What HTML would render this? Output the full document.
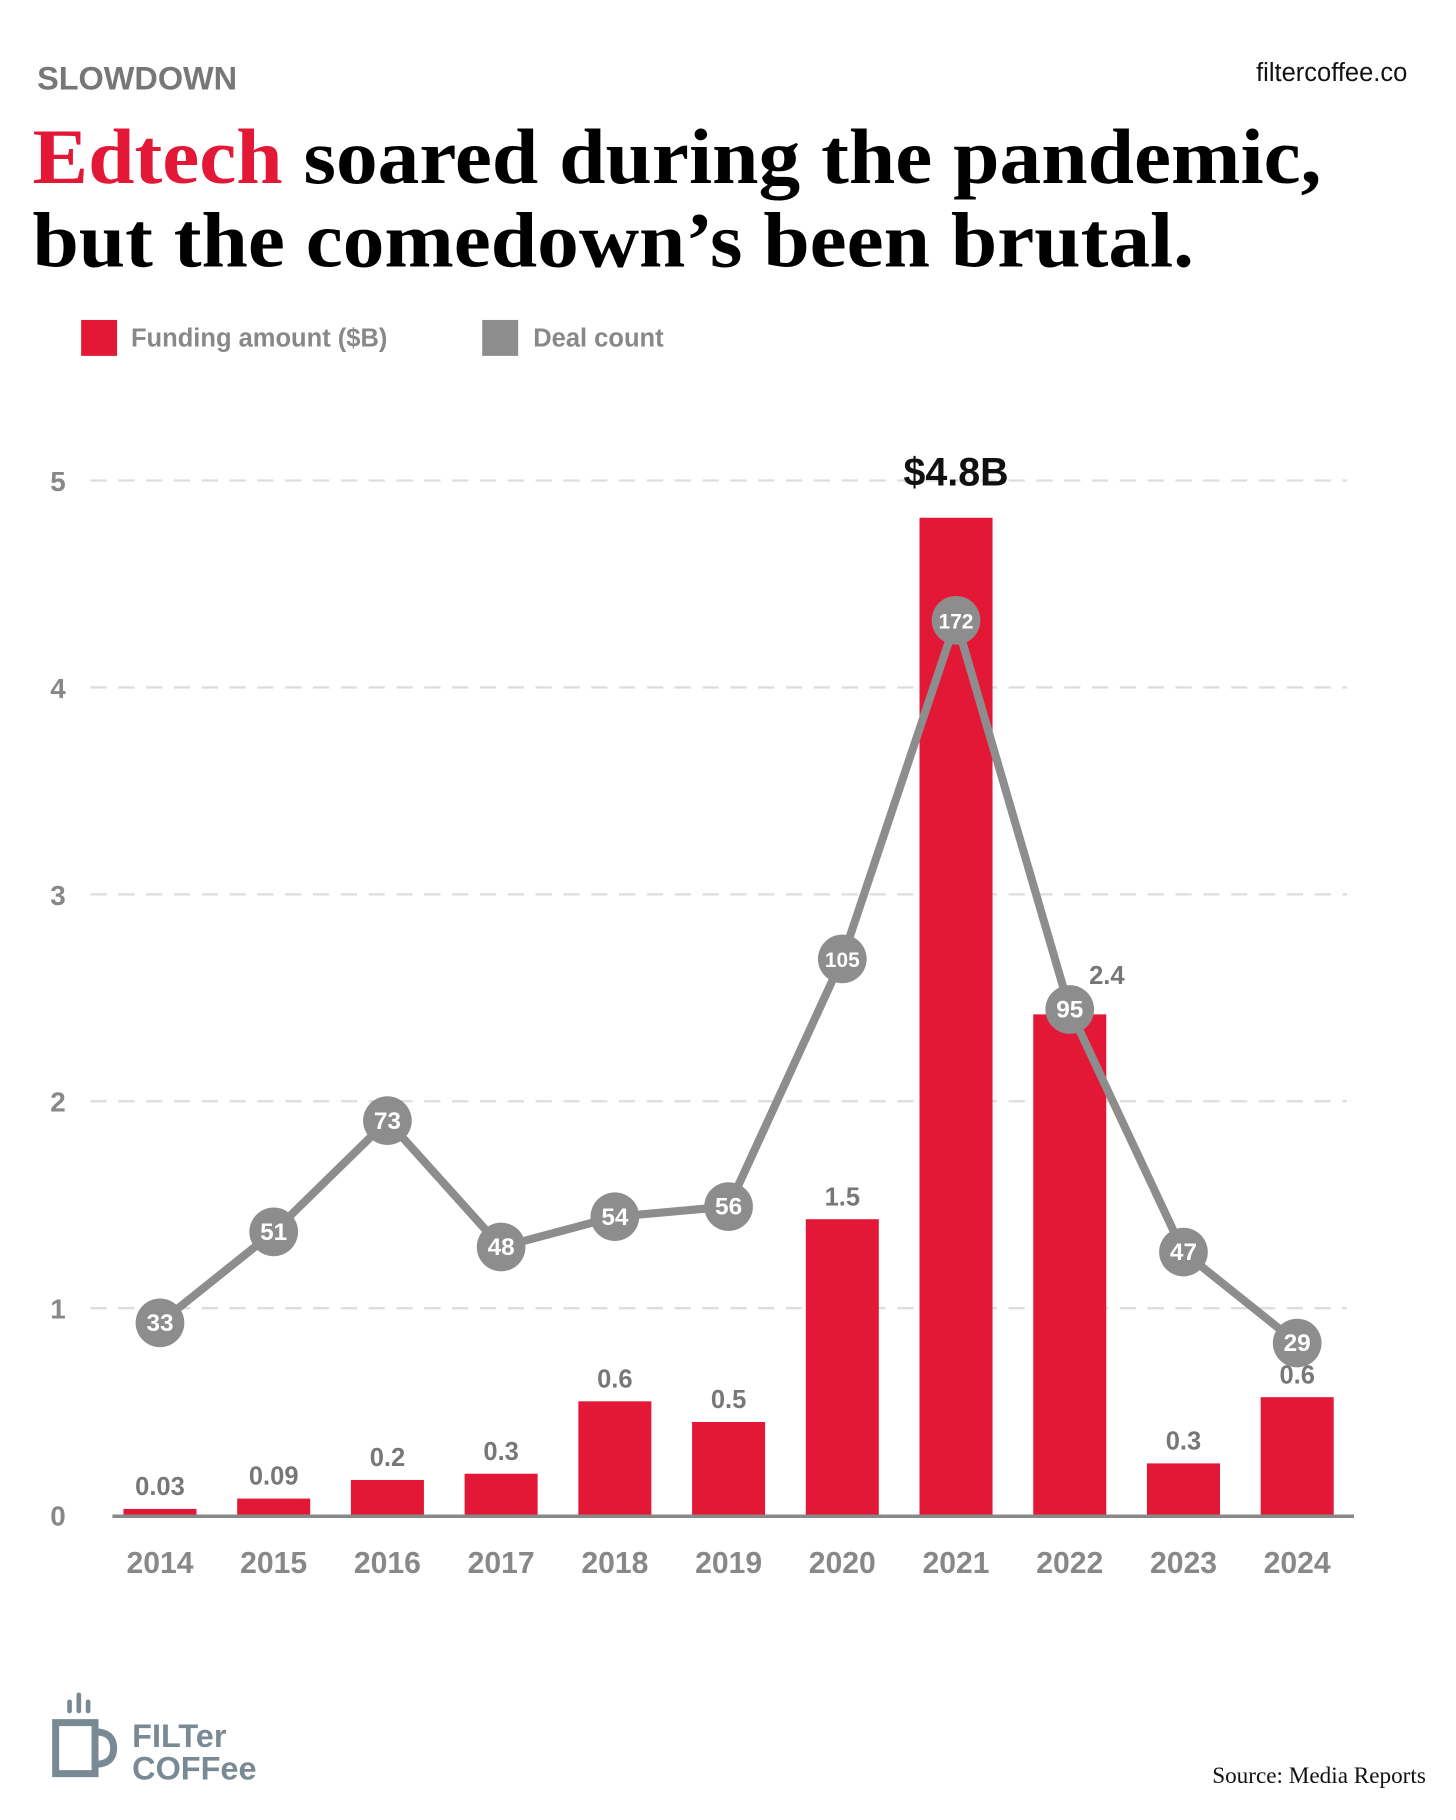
<!DOCTYPE html>
<html><head><meta charset="utf-8"><style>
html,body{margin:0;padding:0;background:#fff;}
svg{display:block;}
</style></head><body>
<svg id="chart" width="1456" height="1820" viewBox="0 0 1256 1570" xmlns="http://www.w3.org/2000/svg">
<rect width="1256" height="1570" fill="#fff"/>
<text x="32" y="77" font-family="Liberation Sans, sans-serif" font-weight="bold" font-size="28" fill="#777">SLOWDOWN</text>
<text x="1214" y="70" text-anchor="end" font-family="Liberation Sans, sans-serif" font-size="22" fill="#111">filtercoffee.co</text>
<text x="28" y="158" font-family="Liberation Serif, serif" font-weight="bold" font-size="68" fill="#000" textLength="1112" lengthAdjust="spacingAndGlyphs"><tspan fill="#e31837">Edtech</tspan> soared during the pandemic,</text>
<text x="28" y="230" font-family="Liberation Serif, serif" font-weight="bold" font-size="68" fill="#000" textLength="1002" lengthAdjust="spacingAndGlyphs">but the comedown’s been brutal.</text>
<g>
<rect x="70" y="276" width="31" height="31" fill="#e31837"/>
<text x="113" y="299" font-family="Liberation Sans, sans-serif" font-weight="bold" font-size="22" fill="#888">Funding amount ($B)</text>
<rect x="416" y="276" width="31" height="31" fill="#8e8d8e"/>
<text x="460" y="299" font-family="Liberation Sans, sans-serif" font-weight="bold" font-size="22" fill="#888">Deal count</text>
</g>
<g id="plot"></g>
<g fill="#7a8a94">
<rect x="58" y="1466" width="4" height="12" rx="2"/><rect x="66" y="1460" width="4" height="18" rx="2"/><rect x="74" y="1466" width="4" height="12" rx="2"/>
<path d="M48 1486 h34 v44 h-34 z" fill="none" stroke="#7a8a94" stroke-width="6"/>
<path d="M82 1494 q16 0 16 14 q0 14 -16 14" fill="none" stroke="#7a8a94" stroke-width="6"/>
<text x="114" y="1507" font-family="Liberation Sans, sans-serif" font-weight="bold" font-size="28" fill="#7a8a94">FILTer</text>
<text x="114" y="1535" font-family="Liberation Sans, sans-serif" font-weight="bold" font-size="28" fill="#7a8a94">COFFee</text>
</g>
<text x="1230" y="1538" text-anchor="end" font-family="Liberation Serif, serif" font-size="20" fill="#111">Source: Media Reports</text>
</svg>
<script>
const years = ["2014","2015","2016","2017","2018","2019","2020","2021","2022","2023","2024"];
const funding = [0.03,0.08,0.17,0.2,0.55,0.45,1.43,4.82,2.42,0.25,0.57];
const fundingLabels = ["0.03","0.09","0.2","0.3","0.6","0.5","1.5","$4.8B","2.4","0.3","0.6"];
const deals = [33,51,73,48,54,56,105,172,95,47,29];
const yTicks = [0,1,2,3,4,5];

const NS="http://www.w3.org/2000/svg";
const plot=document.getElementById('plot');
const x0=138, step=98.1, barW=63;
const xPos=i=>x0+i*step;
const yFund=v=>1307-v*178.5;
const yDeal=v=>1285-v*4.36;
function mk(tag,attrs,parent){const e=document.createElementNS(NS,tag);for(const k in attrs)e.setAttribute(k,attrs[k]);(parent||plot).appendChild(e);return e;}
const sans="Liberation Sans Narrow, Liberation Sans, sans-serif";

yTicks.forEach(t=>{
  if(t>0){const g=mk('line',{x1:78,x2:1162,y1:yFund(t),y2:yFund(t),stroke:'#dddddd','stroke-width':2,'stroke-dasharray':'14 10'});
  
  }
  const l=mk('text',{x:50,y:yFund(t)+9,'text-anchor':'middle','font-family':sans,'font-weight':'bold','font-size':24,fill:'#888'});
  l.textContent=t;
  
  
});

funding.forEach((v,i)=>{
  const r=mk('rect',{x:xPos(i)-barW/2,y:yFund(v),width:barW,height:yFund(0)-yFund(v),fill:'#e31837'});
  
  
  const big=fundingLabels[i].startsWith('$');
  const lx=years[i]==="2022"?xPos(i)+32:xPos(i);
  const ly=years[i]==="2022"?yFund(v)-26:yFund(v)-(big?28:12);
  const t=mk('text',{x:lx,y:ly,'text-anchor':'middle','font-family':big?'Liberation Sans, sans-serif':sans,'font-weight':'bold','font-size':big?34:22,fill:big?'#111':'#777'});
  t.textContent=fundingLabels[i];
  
  
  const xl=mk('text',{x:xPos(i),y:1357,'text-anchor':'middle','font-family':sans,'font-weight':'bold','font-size':26,fill:'#888'});
  xl.textContent=years[i];
  
  
});
const axis=mk('line',{x1:97,x2:1168,y1:1308,y2:1308,stroke:'#888','stroke-width':3});



const pts=deals.map((d,i)=>xPos(i)+','+yDeal(d)).join(' ');
const pl=mk('polyline',{points:pts,fill:'none',stroke:'#8e8d8e','stroke-width':7,'stroke-linejoin':'round'});


deals.forEach((d,i)=>{
  const c=mk('circle',{cx:xPos(i),cy:yDeal(d),r:21,fill:'#8e8d8e'});
  
  
  const t=mk('text',{x:xPos(i),y:yDeal(d)+7,'text-anchor':'middle','font-family':sans,'font-weight':'bold','font-size':d>99?18:21,fill:'#fff'});
  t.textContent=d;
  
  
});
</script>
</body></html>
